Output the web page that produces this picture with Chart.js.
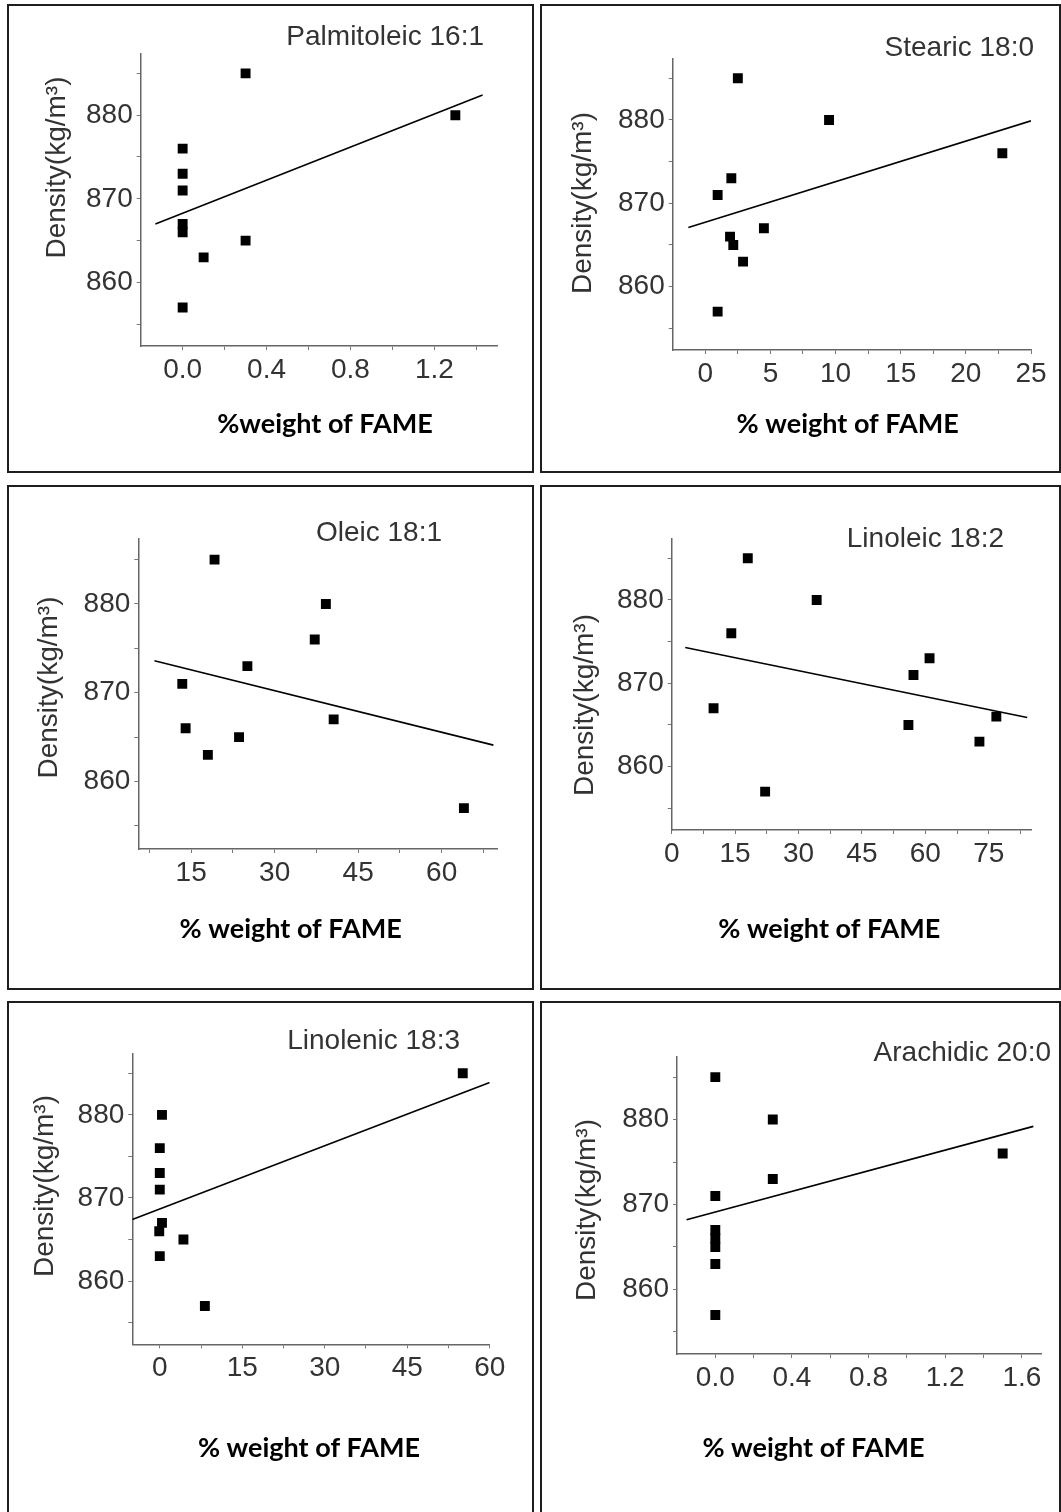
<!DOCTYPE html>
<html>
<head>
<meta charset="utf-8">
<title>Density vs % weight of FAME</title>
<script src="https://cdn.jsdelivr.net/npm/chart.js@4.4.1/dist/chart.umd.min.js"></script>
<style>
  html, body { margin: 0; padding: 0; background: #fff; }
  body { width: 1061px; height: 1512px; position: relative; overflow: hidden; }
  .frame { position: absolute; border: 2px solid #1e1e1e; box-sizing: border-box; }
  canvas { position: absolute; }
</style>
</head>
<body>
<script>
// Data

const panelNames = ['Palmitoleic 16:1', 'Stearic 18:0', 'Oleic 18:1', 'Linoleic 18:2', 'Linolenic 18:3', 'Arachidic 20:0'];
const xTitles = ['%weight of FAME', '% weight of FAME', '% weight of FAME', '% weight of FAME', '% weight of FAME', '% weight of FAME'];
const yTitle = 'Density(kg/m\u00B3)';

// shared density axis
const yTicks = [860, 870, 880];
const yLabels = ['860', '870', '880'];
const yRange = [852.4, 887.4];

// Palmitoleic 16:1
const palmX = [0, 0, 0, 0, 0, 0, 0.1, 0.3, 0.3, 1.3];
const palmY = [876, 873, 871, 867, 866, 857, 863, 865, 885, 880];
const palmFitX = [-0.13, 1.43];
const palmFitY = [867.0, 882.4];
const palmTicks = [0, 0.4, 0.8, 1.2];
const palmLabels = ['0.0', '0.4', '0.8', '1.2'];
const palmRange = [-0.2, 1.5];

// Stearic 18:0
const stearX = [2.5, 9.5, 22.8, 2.0, 0.95, 1.9, 2.15, 4.5, 2.9, 0.95];
const stearY = [885, 880, 876, 873, 871, 866, 865, 867, 863, 857];
const stearFitX = [-1.3, 25];
const stearFitY = [867.1, 879.9];
const stearTicks = [0, 5, 10, 15, 20, 25];
const stearLabels = ['0', '5', '10', '15', '20', '25'];
const stearRange = [-2.5, 25];

// Oleic 18:1
const oleX = [19.2, 39.2, 37.2, 25.1, 13.4, 14.0, 23.6, 18.0, 40.6, 64.0];
const oleY = [885, 880, 876, 873, 871, 866, 865, 863, 867, 857];
const oleFitX = [8.4, 69.3];
const oleFitY = [873.6, 864.1];
const oleTicks = [15, 30, 45, 60];
const oleLabels = ['15', '30', '45', '60'];
const oleRange = [5.5, 70];

// Linoleic 18:2
const linoX = [18.0, 34.3, 14.1, 9.9, 22.1, 57.2, 61.0, 56.0, 72.8, 76.8];
const linoY = [885, 880, 876, 867, 857, 871, 873, 865, 863, 866];
const linoFitX = [3.2, 84.1];
const linoFitY = [874.3, 865.9];
const linoTicks = [0, 15, 30, 45, 60, 75];
const linoLabels = ['0', '15', '30', '45', '60', '75'];
const linoRange = [0, 85];

// Linolenic 18:3
const lnnX = [55.1, 0.4, 0, 0, 0, 0.4, -0.1, 4.3, 0, 8.2];
const lnnY = [885, 880, 876, 873, 871, 867, 866, 865, 863, 857];
const lnnFitX = [-5, 60];
const lnnFitY = [867.4, 883.9];
const lnnTicks = [0, 15, 30, 45, 60];
const lnnLabels = ['0', '15', '30', '45', '60'];
const lnnRange = [-5, 60];

// Arachidic 20:0
const araX = [0, 0.3, 0.3, 1.5, 0, 0, 0, 0, 0, 0];
const araY = [885, 880, 873, 876, 871, 867, 866, 865, 863, 857];
const araFitX = [-0.15, 1.66];
const araFitY = [868.2, 879.2];
const araTicks = [0, 0.4, 0.8, 1.2, 1.6];
const araLabels = ['0.0', '0.4', '0.8', '1.2', '1.6'];
const araRange = [-0.2, 1.7];

/**
 * Page layout (page pixels): frame box, plot area, text anchors
 */
const layouts = [
    { box: [8, 5, 525, 467],    area: [140.7, 53.3, 497.3, 346],    name: [484, 37],      yT: [57, 167.5],   xT: [325, 433] },
    { box: [541, 5, 519, 467],  area: [672.7, 58.3, 1031, 350],     name: [1034, 48.3],   yT: [583.5, 203],  xT: [847.7, 433] },
    { box: [8, 486, 525, 503],  area: [138.3, 538.3, 497.3, 849],   name: [442, 533.3],   yT: [49, 687.5],   xT: [290.7, 938] },
    { box: [541, 486, 519, 503], area: [671.7, 538.3, 1031, 830],   name: [1004, 539.3],  yT: [585, 705],    xT: [829.3, 938] },
    { box: [8, 1002, 525, 520], area: [132.3, 1053.3, 489.7, 1344.3], name: [460, 1041.7], yT: [45.7, 1186], xT: [309, 1457] },
    { box: [541, 1002, 519, 520], area: [677, 1056.7, 1041, 1354],  name: [1051, 1053.3], yT: [587.7, 1210], xT: [813.5, 1457] }
];

const panels = [
    { x: palmX, y: palmY, fitX: palmFitX, fitY: palmFitY, ticks: palmTicks, labels: palmLabels, range: palmRange },
    { x: stearX, y: stearY, fitX: stearFitX, fitY: stearFitY, ticks: stearTicks, labels: stearLabels, range: stearRange },
    { x: oleX, y: oleY, fitX: oleFitX, fitY: oleFitY, ticks: oleTicks, labels: oleLabels, range: oleRange },
    { x: linoX, y: linoY, fitX: linoFitX, fitY: linoFitY, ticks: linoTicks, labels: linoLabels, range: linoRange },
    { x: lnnX, y: lnnY, fitX: lnnFitX, fitY: lnnFitY, ticks: lnnTicks, labels: lnnLabels, range: lnnRange },
    { x: araX, y: araY, fitX: araFitX, fitY: araFitY, ticks: araTicks, labels: araLabels, range: araRange }
];

const tickFont = { family: '"Liberation Sans", Arial, sans-serif', size: 28 };
const textColor = '#333';

// major ticks plus the unlabeled half-step ones in between
function withMinor(majors, range) {
    const half = (majors[1] - majors[0]) / 2;
    const out = [];
    for (let i = -1; i <= majors.length * 2; i++) {
        const v = Math.round((majors[0] + i * half) * 1e6) / 1e6;
        if (v >= range[0] - 1e-9 && v <= range[1] + 1e-9) out.push(v);
    }
    // drop a minor tick sitting right on the axis start
    return out.filter(v => !(Math.abs(v - range[0]) < 1e-9 && majors.indexOf(v) < 0));
}

function labelFor(value, majors, labels) {
    const i = majors.findIndex(t => Math.abs(t - value) < 1e-6);
    return i >= 0 ? labels[i] : '';
}

/**
 * Panel texts: title, rotated y title, bold x title
 */
const panelText = {
    id: 'panelText',
    afterDraw(chart, args, o) {
        const ctx = chart.ctx;
        ctx.save();
        ctx.fillStyle = textColor;
        ctx.font = '28px "Liberation Sans", Arial, sans-serif';
        ctx.textAlign = 'right';
        ctx.textBaseline = 'middle';
        ctx.fillText(o.name, o.nameX, o.nameY);

        ctx.save();
        ctx.translate(o.yX, o.yY);
        ctx.rotate(-Math.PI / 2);
        ctx.textAlign = 'center';
        ctx.fillText(o.yTitle, 0, 0);
        ctx.restore();

        ctx.fillStyle = '#000';
        ctx.font = 'bold 27px Lato, "Open Sans", sans-serif';
        ctx.textAlign = 'center';
        ctx.textBaseline = 'alphabetic';
        ctx.fillText(o.xTitle, o.xX, o.xY);
        ctx.restore();
    }
};

function buildPanel(i) {
    const p = panels[i];
    const L = layouts[i];
    const [bx, by, bw, bh] = L.box;
    const [al, at, ar, ab] = L.area;

    const frame = document.createElement('div');
    frame.className = 'frame';
    frame.style.left = (bx - 1) + 'px';
    frame.style.top = (by - 1) + 'px';
    frame.style.width = (bw + 2) + 'px';
    frame.style.height = (bh + 2) + 'px';
    document.body.appendChild(frame);

    const canvas = document.createElement('canvas');
    canvas.width = bw;
    canvas.height = bh;
    canvas.style.left = bx + 'px';
    canvas.style.top = by + 'px';
    canvas.style.width = bw + 'px';
    canvas.style.height = bh + 'px';
    document.body.appendChild(canvas);

    const xAll = withMinor(p.ticks, p.range);
    const yAll = withMinor(yTicks, yRange);
    const points = p.x.map((v, k) => ({ x: v, y: p.y[k] }));
    const fit = p.fitX.map((v, k) => ({ x: v, y: p.fitY[k] }));

    const axisCommon = {
        type: 'linear',
        border: { display: true, color: '#666', width: 1.5 },
        grid: { display: true, drawOnChartArea: false, drawTicks: true, tickLength: 4, color: '#777', lineWidth: 1 }
    };

    new Chart(canvas.getContext('2d'), {
        type: 'scatter',
        data: {
            datasets: [
                {
                    data: points,
                    pointStyle: 'rect',
                    pointRadius: 7,
                    backgroundColor: '#000',
                    borderColor: '#000',
                    borderWidth: 0
                },
                {
                    data: fit,
                    showLine: true,
                    pointRadius: 0,
                    borderColor: '#000',
                    borderWidth: 1.6,
                    fill: false
                }
            ]
        },
        options: {
            responsive: false,
            animation: false,
            events: [],
            layout: { padding: { left: 0, top: at - by, right: bx + bw - ar, bottom: 0 } },
            scales: {
                x: {
                    ...axisCommon,
                    position: 'bottom',
                    min: p.range[0],
                    max: p.range[1],
                    afterBuildTicks: (s) => { s.ticks = xAll.map(v => ({ value: v })); },
                    afterFit: (s) => { s.height = by + bh - ab; },
                    ticks: {
                        autoSkip: false, maxRotation: 0, minRotation: 0, padding: 3,
                        color: textColor, font: tickFont,
                        callback: (v) => labelFor(v, p.ticks, p.labels)
                    }
                },
                y: {
                    ...axisCommon,
                    position: 'left',
                    min: yRange[0],
                    max: yRange[1],
                    afterBuildTicks: (s) => { s.ticks = yAll.map(v => ({ value: v })); },
                    afterFit: (s) => { s.width = al - bx; },
                    ticks: {
                        autoSkip: false, padding: 4,
                        color: textColor, font: tickFont,
                        callback: (v) => labelFor(v, yTicks, yLabels)
                    }
                }
            },
            plugins: {
                legend: { display: false },
                tooltip: { enabled: false },
                panelText: {
                    name: panelNames[i], nameX: L.name[0] - bx, nameY: L.name[1] - by,
                    yTitle: yTitle, yX: L.yT[0] - bx, yY: L.yT[1] - by,
                    xTitle: xTitles[i], xX: L.xT[0] - bx, xY: L.xT[1] - by
                }
            }
        },
        plugins: [panelText]
    });
}

panels.forEach((p, i) => buildPanel(i));
</script>
</body>
</html>
